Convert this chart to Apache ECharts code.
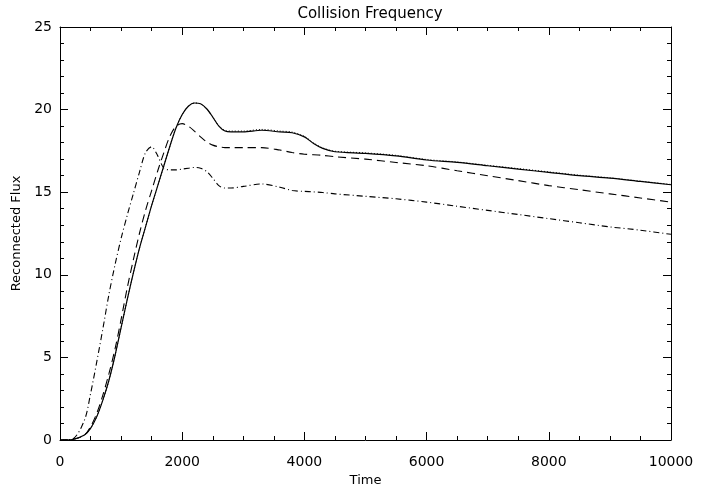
<!DOCTYPE html>
<html>
<head>
<meta charset="utf-8">
<script src="https://cdn.jsdelivr.net/npm/echarts@6/dist/echarts.min.js"></script>
<style>html,body{margin:0;padding:0;background:#fff}#c{width:715px;height:486px}</style>
</head>
<body>
<div id="c"></div>
<script>
const times = [0,200,400,500,600,700,800,900,1000,1100,1200,1300,1400,1500,1600,1700,1800,1900,2000,2100,2200,2300,2400,2500,2600,2700,2800,3000,3300,3600,3800,4000,4150,4300,4500,5000,5500,6000,6500,7000,7500,8000,8500,9000,9500,10000];
const fluxSolid = [0,0.03,0.3,0.7,1.4,2.4,3.6,5.1,6.8,8.5,10.1,11.6,12.9,14.2,15.4,16.6,17.8,18.9,19.7,20.2,20.4,20.35,20.05,19.55,19.0,18.7,18.65,18.65,18.75,18.65,18.6,18.35,17.95,17.65,17.45,17.35,17.2,16.95,16.8,16.6,16.4,16.2,16.0,15.85,15.65,15.45];
const fluxDotted = [0,0.03,0.3,0.7,1.4,2.4,3.6,5.1,6.8,8.5,10.1,11.6,12.9,14.2,15.4,16.6,17.8,18.9,19.7,20.2,20.4,20.35,20.05,19.55,19.02,18.74,18.7,18.7,18.8,18.7,18.64,18.38,17.98,17.68,17.48,17.38,17.23,16.98,16.83,16.63,16.43,16.23,16.03,15.87,15.67,15.47];
const fluxDashed = [0,0.03,0.3,0.8,1.6,2.7,4.0,5.5,7.3,9.2,10.9,12.5,13.9,15.1,16.3,17.4,18.4,19.0,19.15,19.0,18.7,18.35,18.05,17.85,17.75,17.7,17.7,17.7,17.7,17.55,17.4,17.3,17.27,17.23,17.15,17.0,16.8,16.6,16.3,16.0,15.7,15.4,15.15,14.9,14.65,14.4];
const fluxDashDot = [0,0.05,1.2,2.8,4.7,6.7,8.8,10.6,12.2,13.6,14.9,16.2,17.4,17.75,17.2,16.45,16.35,16.35,16.4,16.45,16.5,16.45,16.25,15.85,15.4,15.25,15.25,15.35,15.5,15.3,15.1,15.05,15.02,14.98,14.9,14.75,14.6,14.4,14.15,13.9,13.65,13.4,13.15,12.9,12.7,12.45];

const FONT = 'DejaVu Sans';
const pair = vals => times.map((t, i) => [t, vals[i]]);
const plain = v => String(v);

const tickStyle = { show: true, inside: true, length: 8, lineStyle: { color: '#000', width: 1 } };
const minorStyle = { show: true, length: 4, lineStyle: { color: '#000', width: 1 } };
const lineAx = { show: true, onZero: false, lineStyle: { color: '#000', width: 1 } };

const chart = echarts.init(document.getElementById('c'), null, { renderer: 'canvas' });
chart.setOption({
  animation: false,
  backgroundColor: '#fff',
  title: {
    text: 'Collision Frequency',
    left: 365, top: 2, textAlign: 'center',
    textStyle: { fontFamily: FONT, fontSize: 15, fontWeight: 'normal', color: '#000' }
  },
  grid: { left: 60, right: 44, top: 27, bottom: 46, containLabel: false, outerBoundsMode: 'none' },
  xAxis: [{
    type: 'value', min: 0, max: 10000, interval: 2000, position: 'bottom',
    name: 'Time', nameLocation: 'middle', nameGap: 31,
    nameTextStyle: { fontFamily: FONT, fontSize: 13, color: '#000' },
    axisLine: lineAx, axisTick: tickStyle,
    minorTick: Object.assign({ splitNumber: 4 }, minorStyle),
    axisLabel: { margin: 15, fontFamily: FONT, fontSize: 14, color: '#000', formatter: plain },
    splitLine: { show: false }
  }, {
    type: 'value', min: 0, max: 10000, interval: 2000, position: 'top',
    axisLine: lineAx, axisTick: tickStyle,
    minorTick: Object.assign({ splitNumber: 4 }, minorStyle),
    axisLabel: { show: false }, splitLine: { show: false }
  }],
  yAxis: [{
    type: 'value', min: 0, max: 25, interval: 5, position: 'left',
    name: 'Reconnected Flux', nameLocation: 'middle', nameGap: 33,
    nameTextStyle: { fontFamily: FONT, fontSize: 13, color: '#000' },
    axisLine: lineAx, axisTick: tickStyle,
    minorTick: Object.assign({ splitNumber: 5 }, minorStyle),
    axisLabel: { margin: 8, fontFamily: FONT, fontSize: 14, color: '#000', formatter: plain },
    splitLine: { show: false }
  }, {
    type: 'value', min: 0, max: 25, interval: 5, position: 'right',
    axisLine: lineAx, axisTick: tickStyle,
    minorTick: Object.assign({ splitNumber: 5 }, minorStyle),
    axisLabel: { show: false }, splitLine: { show: false }
  }],
  series: [
    { name: 'solid', type: 'line', data: pair(fluxSolid), smooth: 0.3, showSymbol: false, symbol: 'none',
      lineStyle: { color: '#000', width: 1.2, type: 'solid' } },
    { name: 'dotted', type: 'line', data: pair(fluxDotted), smooth: 0.3, showSymbol: false, symbol: 'none',
      lineStyle: { color: '#000', width: 1, type: [1, 2] } },
    { name: 'dashed', type: 'line', data: pair(fluxDashed), smooth: 0.3, showSymbol: false, symbol: 'none',
      lineStyle: { color: '#000', width: 1.1, type: [8, 5] } },
    { name: 'dashdot', type: 'line', data: pair(fluxDashDot), smooth: 0.3, showSymbol: false, symbol: 'none',
      lineStyle: { color: '#000', width: 1.1, type: [6, 3, 1, 3] } }
  ]
});
</script>
</body>
</html>
